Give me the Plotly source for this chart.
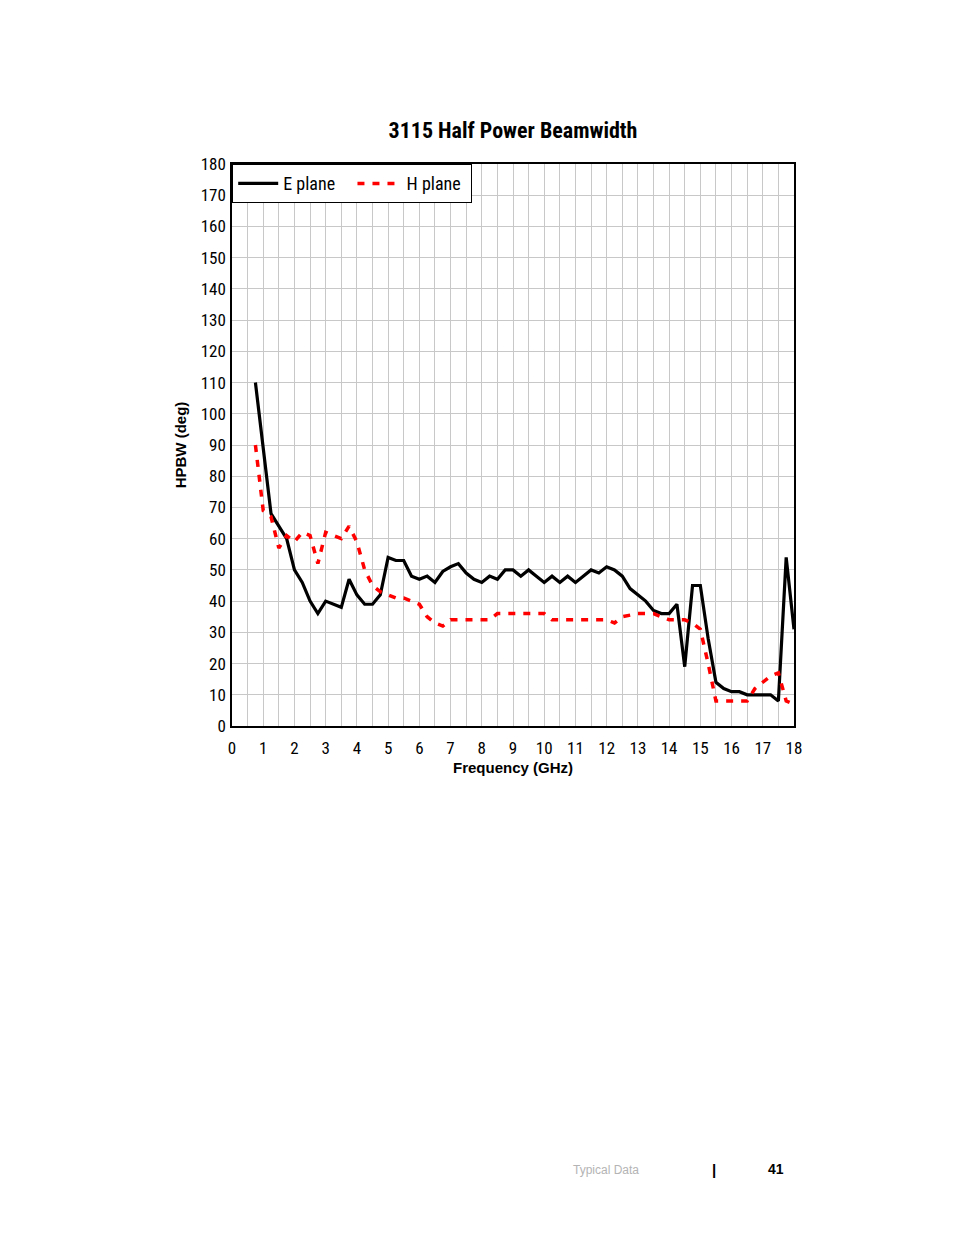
import plotly.graph_objects as go

# ---- data ----
e_freq = [0.75, 1.25, 1.5, 1.75, 2, 2.25, 2.5, 2.75, 3, 3.5, 3.75, 4, 4.25, 4.5, 4.75,
          5, 5.25, 5.5, 5.75, 6, 6.25, 6.5, 6.75, 7, 7.25, 7.5, 7.75, 8, 8.25, 8.5, 8.75,
          9, 9.25, 9.5, 9.75, 10, 10.25, 10.5, 10.75, 11, 11.25, 11.5, 11.75, 12, 12.25,
          12.5, 12.75, 13, 13.25, 13.5, 13.75, 14, 14.25, 14.5, 14.75, 15, 15.25, 15.5,
          15.75, 16, 16.25, 16.5, 16.75, 17, 17.25, 17.5, 17.75, 18]
e_hpbw = [110, 68, 64, 60, 50, 46, 40, 36, 40, 38, 47, 42, 39, 39, 42,
          54, 53, 53, 48, 47, 48, 46, 49.5, 51, 52, 49, 47, 46, 48, 47, 50,
          50, 48, 50, 48, 46, 48, 46, 48, 46, 48, 50, 49, 51, 50,
          48, 44, 42, 40, 37, 36, 36, 39, 19, 45, 45, 28, 14,
          12, 11, 11, 10, 10, 10, 10, 8, 54, 31]

h_freq = [0.75, 1, 1.25, 1.5, 1.75, 2, 2.25, 2.5, 2.75, 3, 3.5, 3.75, 4, 4.25, 4.5, 4.75,
          5, 5.25, 5.5, 5.75, 6, 6.25, 6.5, 6.75, 7, 7.5, 8, 8.25, 8.5, 9, 9.5, 10, 10.25,
          10.5, 11, 11.5, 12, 12.25, 12.5, 13, 13.5, 14, 14.5, 14.75, 15, 15.25, 15.5,
          16, 16.5, 16.75, 17, 17.25, 17.5, 17.75, 18]
h_hpbw = [90, 69, 67, 57, 61, 59, 62, 61, 52, 62, 60, 64, 59, 50, 45, 43,
          42, 41, 41, 40, 39, 35, 33, 32, 34, 34, 34, 34, 36, 36, 36, 36, 34,
          34, 34, 34, 34, 33, 35, 36, 36, 34, 34, 33, 31, 20, 8,
          8, 8, 12, 14, 16, 17, 8, 7]

x_ticks = list(range(0, 19))
y_ticks = list(range(0, 181, 10))

title_text = "3115 Half Power Beamwidth"
x_title = "Frequency (GHz)"
y_title = "HPBW (deg)"

NARROW = "Liberation Sans Narrow, Arial Narrow, Roboto Condensed, sans-serif"
BOLD = "Liberation Sans, Arial, sans-serif"
NB = "\u00a0"

fig = go.Figure()
fig.add_trace(go.Scatter(x=e_freq, y=e_hpbw, mode="lines", name="E plane" + NB * 3,
                         line=dict(color="black", width=3.2)))
fig.add_trace(go.Scatter(x=h_freq, y=h_hpbw, mode="lines", name=NB + "H plane" + NB,
                         line=dict(color="#ff0000", width=3.5, dash="7px,8px")))

# page body has an 8px margin; lay out in page coordinates minus that offset
OFF = 8
W, H = 954 - OFF, 1235 - OFF
L, R, T, B = 232 - OFF, 794 - OFF, 164 - OFF, 726 - OFF
pw = R - L
ph = B - T

fig.update_layout(
    width=W, height=H, autosize=False,
    margin=dict(l=L, r=W - R, t=T, b=H - B, pad=0),
    paper_bgcolor="white", plot_bgcolor="white",
    font=dict(family=NARROW, size=17, color="black"),
    showlegend=True,
    legend=dict(x=0, y=1, xanchor="left", yanchor="top", orientation="h",
                bgcolor="white", bordercolor="black", borderwidth=1.2,
                font=dict(family=NARROW, size=18, color="black"),
                itemwidth=40, tracegroupgap=0),
    title=dict(text="<b>" + title_text + "</b>", x=(513 - OFF) / W, xanchor="center",
               y=1 - (130 - OFF) / H, yanchor="middle",
               font=dict(family=NARROW, size=22, color="black")),
)

fig.update_xaxes(range=[0, 18], tickvals=x_ticks, ticktext=[str(v) for v in x_ticks],
                 showgrid=True, gridcolor="#c8c8c8", gridwidth=1,
                 minor=dict(dtick=0.5, showgrid=True, gridcolor="#c8c8c8", gridwidth=1),
                 showline=True, linecolor="black", linewidth=1.5, mirror=True,
                 ticks="", zeroline=False, ticklabelstandoff=6,
                 title=dict(text="<b>" + x_title + "</b>", standoff=5,
                            font=dict(family=BOLD, size=15, color="black")))
fig.update_yaxes(range=[0, 180], tickvals=y_ticks, ticktext=[str(v) for v in y_ticks],
                 showgrid=True, gridcolor="#c8c8c8", gridwidth=1,
                 showline=True, linecolor="black", linewidth=1.5, mirror=True,
                 ticks="", zeroline=False, ticklabelstandoff=1,
                 title=dict(text="<b>" + y_title + "</b>", standoff=10,
                            font=dict(family=BOLD, size=15, color="black")))

# footer
fig.add_annotation(text="Typical Data", xref="paper", yref="paper",
                   x=(606 - 232) / pw, y=(726 - 1170) / ph, xanchor="center", yanchor="middle",
                   showarrow=False, font=dict(family=BOLD, size=12, color="#b4b4b4"))
fig.add_annotation(text="<b>|</b>", xref="paper", yref="paper",
                   x=(714 - 232) / pw, y=(726 - 1169) / ph, xanchor="center", yanchor="middle",
                   showarrow=False, font=dict(family=BOLD, size=15, color="black"))
fig.add_annotation(text="<b>41</b>", xref="paper", yref="paper",
                   x=(776 - 232) / pw, y=(726 - 1169) / ph, xanchor="center", yanchor="middle",
                   showarrow=False, font=dict(family=BOLD, size=14, color="black"))

fig.write_html("out.html")
